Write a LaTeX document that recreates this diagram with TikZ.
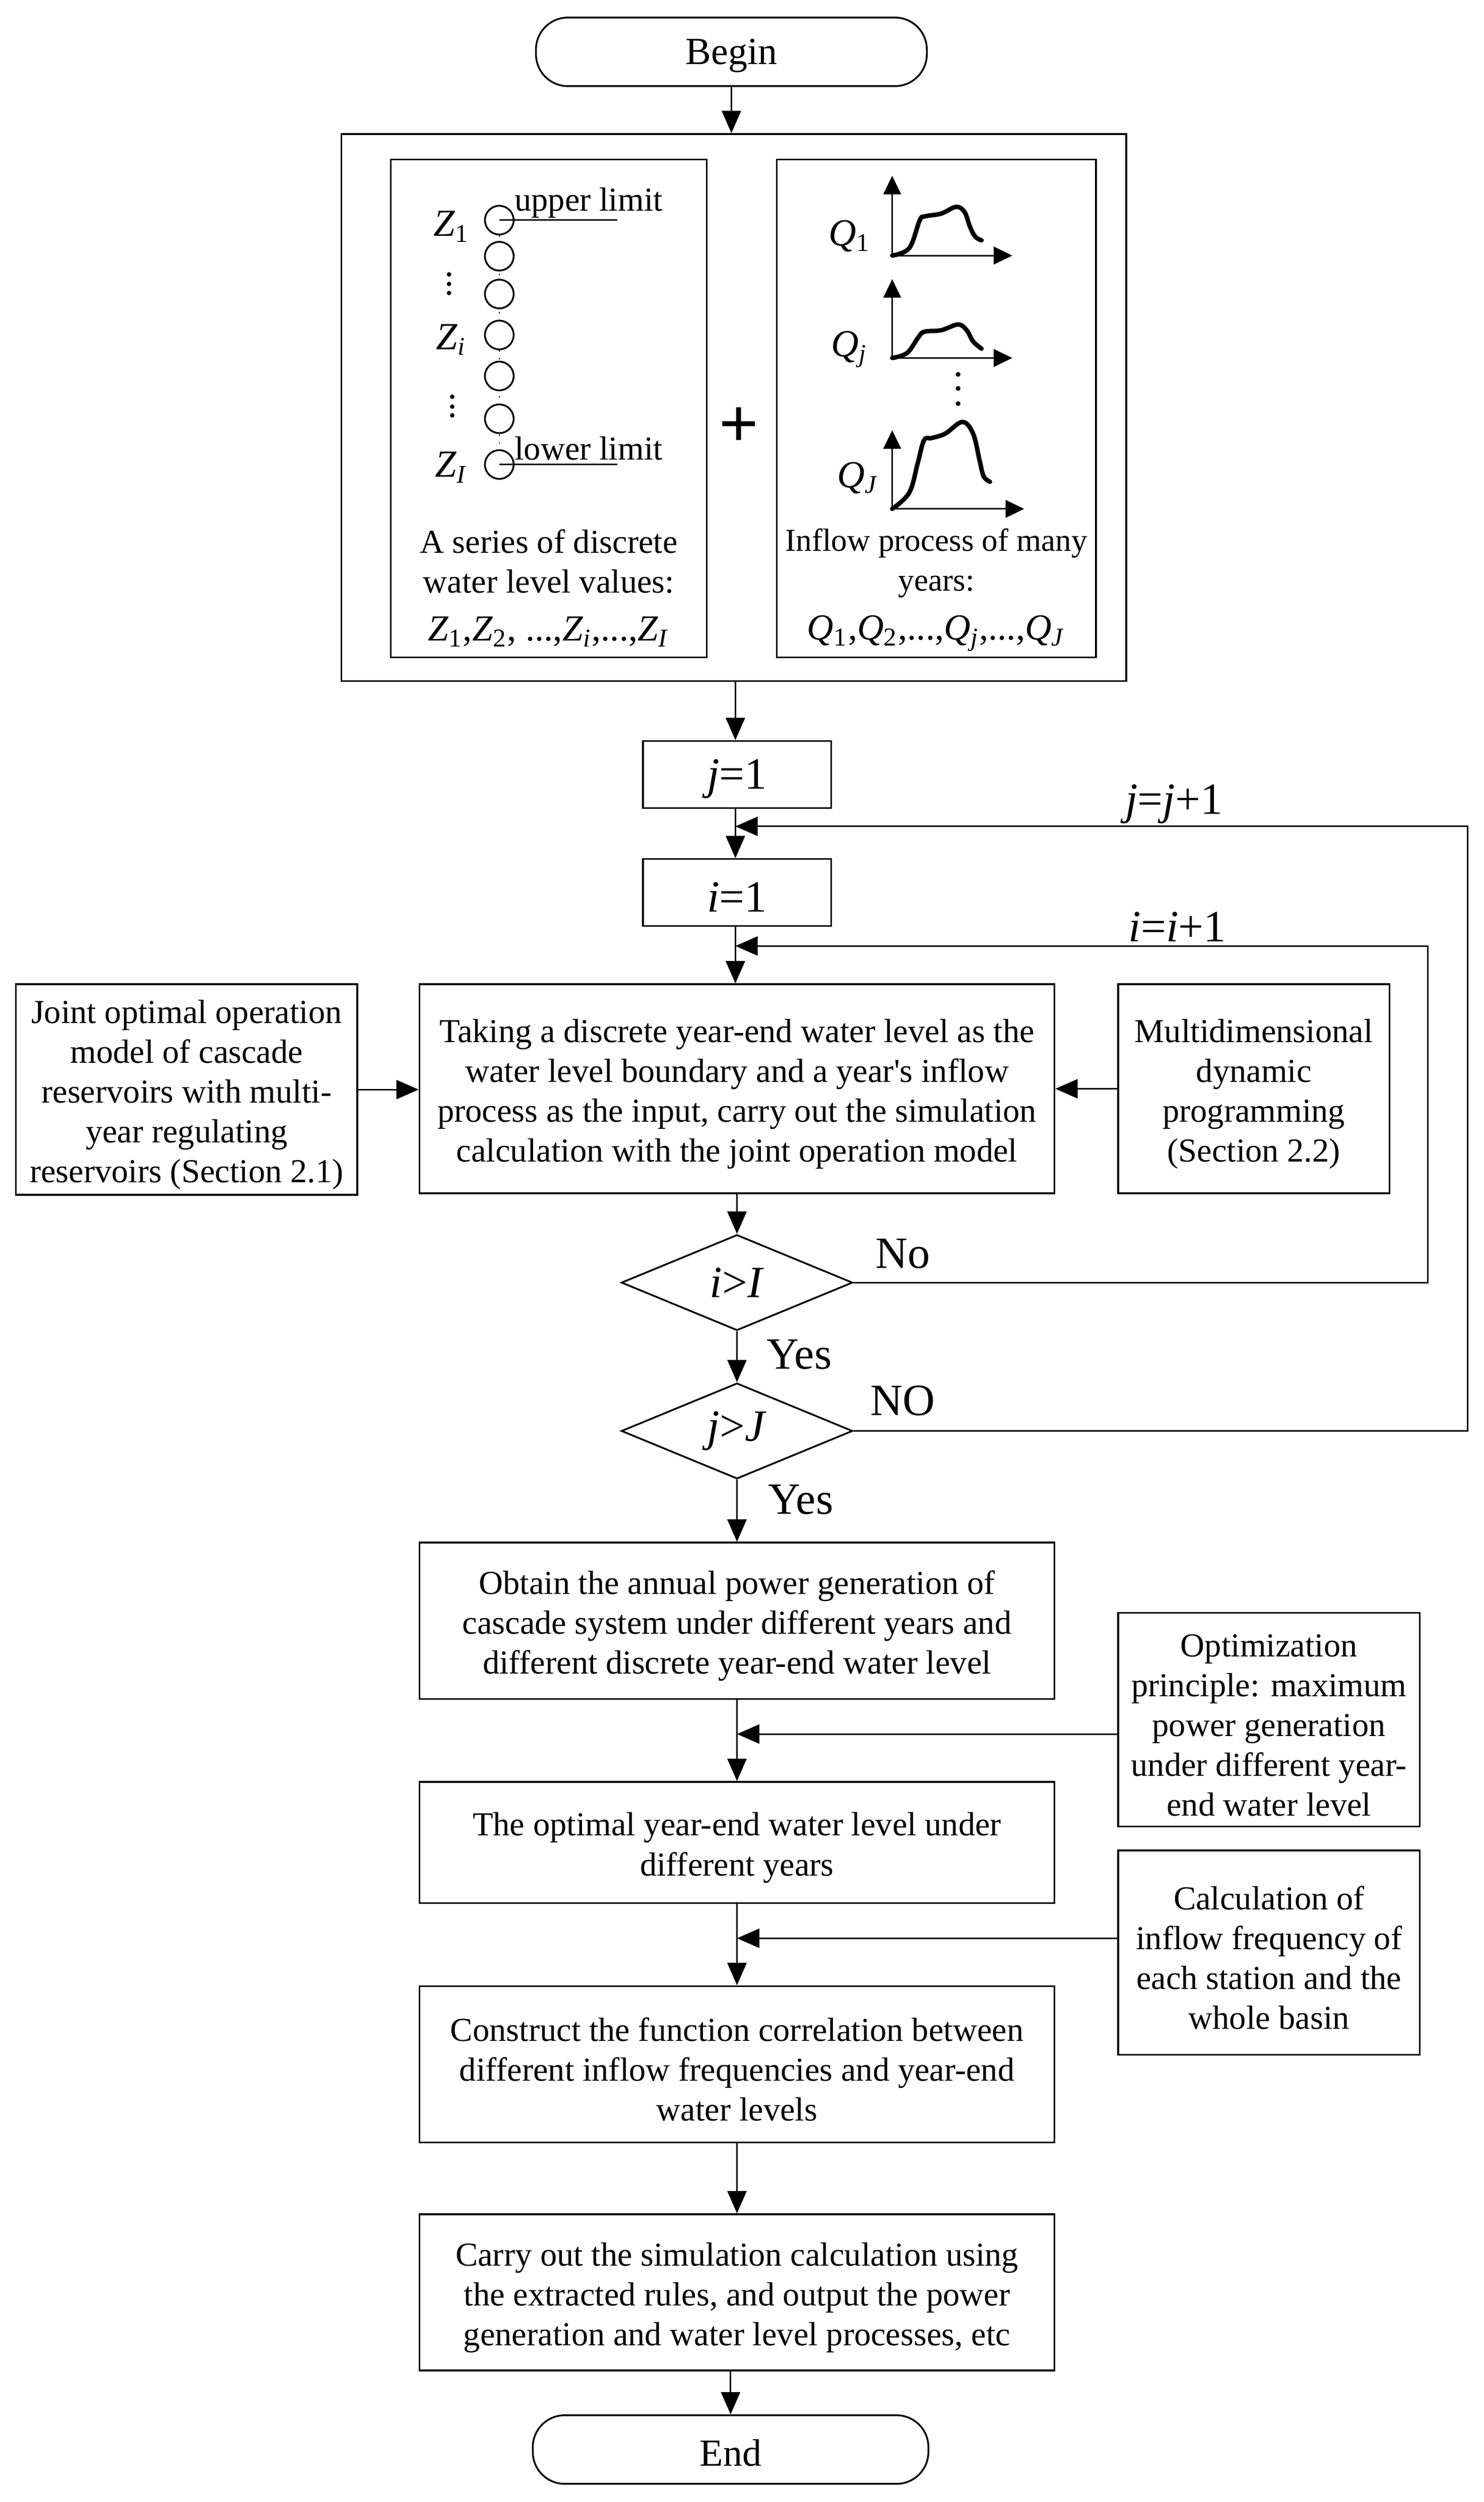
\documentclass[tikz,border=0pt]{standalone}
\usepackage{fontspec}
\setmainfont{Liberation Serif}
\usetikzlibrary{arrows.meta,shapes.geometric,calc}
\newcommand{\bodyfs}{\fontsize{10.5}{12.5}\selectfont}
\newcommand{\bigfs}{\fontsize{14}{16}\selectfont}
\newcommand{\zfs}{\fontsize{12}{14}\selectfont}
\newcommand{\topstrut}{\rule{0pt}{10.5pt}}
\begin{document}
\begin{tikzpicture}[x=0.5pt,y=-0.5pt,
  box/.style={draw, line width=0.55pt, align=center, inner sep=0pt, font=\bodyfs},
  smallbox/.style={draw, line width=0.55pt, inner sep=0pt, font=\bigfs,
    minimum width=59pt, minimum height=21pt, execute at begin node={\rule{0pt}{12pt}}},
  term/.style={draw, line width=0.55pt, rounded corners=10pt, inner sep=0pt,
    font=\fontsize{12}{14}\selectfont, execute at begin node={\rule{0pt}{10.4pt}}},
  dec/.style={draw, line width=0.55pt, diamond, aspect=2.4, inner sep=0pt, minimum width=72.5pt, minimum height=30pt, font=\bigfs},
  arr/.style={-{Triangle[length=7pt,width=6pt]}, line width=0.5pt},
  axarr/.style={-{Triangle[length=5.8pt,width=5.5pt]}, line width=0.5pt},
  lbl/.style={inner sep=0pt, font=\bigfs},
  curve/.style={line width=1.4pt, line cap=round, line join=round},
]
\useasboundingbox (0,0) rectangle (930,1568.4);

% ---------- nodes ----------
\node[term, minimum width=122.5pt, minimum height=21.5pt] (begin) at (458.5,32.5) {Begin};
\node[draw, line width=0.55pt, minimum width=246pt, minimum height=171.5pt] (big) at (460,255.5) {};
\node[draw, line width=0.55pt, minimum width=99pt, minimum height=156pt] (zbox) at (344,256) {};
\node[draw, line width=0.55pt, minimum width=100pt, minimum height=156pt] (qbox) at (587,256) {};
\node[inner sep=0pt, font=\fontsize{22}{22}\selectfont\bfseries] (plus) at (463,268) {+};

\node[smallbox] (j1) at (462,485.5) {\textit{j}=1};
\node[smallbox] (i1) at (462,559.5) {\textit{i}=1};

\node[box, minimum width=199pt, minimum height=65.5pt] (main) at (462,682.5)
  {\topstrut Taking a discrete year-end water level as the\\water level boundary and a year\textquotesingle s inflow\\process as the input, carry out the simulation\\calculation with the joint operation model};
\node[box, minimum width=107pt, minimum height=66pt] (left) at (117,683)
  {\topstrut Joint optimal operation\\model of cascade\\reservoirs with multi-\\year regulating\\reservoirs (Section 2.1)};
\node[box, minimum width=85pt, minimum height=65.5pt] (right) at (786,682.5)
  {\topstrut Multidimensional\\dynamic\\programming\\(Section 2.2)};

\node[dec] (d1) at (462,804) {\textit{i}>\textit{I}};
\node[dec] (d2) at (462,897) {\textit{j}>\textit{J}};

\node[box, minimum width=199pt, minimum height=49pt] (obtain) at (462,1016)
  {\topstrut Obtain the annual power generation of\\cascade system under different years and\\different discrete year-end water level};
\node[box, minimum width=94.5pt, minimum height=67pt] (opt) at (795.5,1078)
  {\topstrut Optimization\\principle: maximum\\power generation\\under different year-\\end water level};
\node[box, minimum width=199pt, minimum height=38pt] (optimal) at (462,1155)
  {\topstrut The optimal year-end water level under\\different years};
\node[box, minimum width=94.5pt, minimum height=64pt] (calc) at (795.5,1224)
  {\topstrut Calculation of\\inflow frequency of\\each station and the\\whole basin};
\node[box, minimum width=199pt, minimum height=49pt] (construct) at (462,1294)
  {\topstrut Construct the function correlation between\\different inflow frequencies and year-end\\water levels};
\node[box, minimum width=199pt, minimum height=49pt] (carry) at (462,1437)
  {\topstrut Carry out the simulation calculation using\\the extracted rules, and output the power\\generation and water level processes, etc};
\node[term, minimum width=124pt, minimum height=21.5pt] (end) at (458,1535.5) {End};

% ---------- labels ----------
\node[lbl] (lj) at (736,504) {\textit{j}=\textit{j}+1};
\node[lbl] (li) at (738,581) {\textit{i}=\textit{i}+1};
\node[lbl] (no1) at (566,786) {No};
\node[lbl] (yes1) at (501,849) {Yes};
\node[lbl] (no2) at (566,878) {NO};
\node[lbl] (yes2) at (502,940) {Yes};

% ---------- connector helper coordinates ----------
\coordinate (jm) at (461,518);
\coordinate (jr) at (920,518);
\coordinate (im) at (461,593);
\coordinate (ir) at (895,593);
\coordinate (om) at (462,1087);
\coordinate (cm) at (462,1215);

% ---------- connectors ----------
\draw[arr] (begin.south) -- (begin.south |- big.north);
\draw[arr] (big.south -| jm) -- (j1.north -| jm);
\draw[arr] (j1.south -| jm) -- (i1.north -| jm);
\draw[arr] (i1.south -| im) -- (main.north -| im);
\draw[arr] (main.south) -- (d1.north);
\draw[arr] (d1.south) -- (d2.north);
\draw[arr] (d2.south) -- (obtain.north);
\draw[arr] (obtain.south) -- (optimal.north);
\draw[arr] (optimal.south) -- (construct.north);
\draw[arr] (construct.south) -- (carry.north);
\draw[arr] (carry.south -| end.north) -- (end.north);
\draw[arr] (left.east) -- (left.east -| main.west);
\draw[arr] (right.west) -- (right.west -| main.east);
\draw[arr] (d1.east) -| (ir) -- (im);
\draw[arr] (d2.east) -| (jr) -- (jm);
\draw[arr] (om -| opt.west) -- (om);
\draw[arr] (cm -| calc.west) -- (cm);

% ---------- left panel: discrete water levels ----------
\draw[dotted, line width=0.4pt] (313,138) -- (313,291);
\foreach \yy in {138,160.6,184.3,210,235.7,262.5,291.2}
  \draw[line width=0.55pt, fill=white] (313,\yy) circle[radius=4.5pt];
\draw[line width=0.5pt] (313,138) -- (387,138);
\draw[line width=0.5pt] (313,291.2) -- (387,291.2);
\node[inner sep=0pt, font=\bodyfs] (up) at (369,127) {upper limit};
\node[inner sep=0pt, font=\bodyfs] (lo) at (369,281) {lower limit};
\node[inner sep=0pt, font=\zfs] (z1) at (283,142) {\textit{Z}\textsubscript{1}};
\node[inner sep=0pt, font=\zfs] (zi) at (283,213) {\textit{Z}\textsubscript{\textit{i}}};
\node[inner sep=0pt, font=\zfs] (zI) at (283,293) {\textit{Z}\textsubscript{\textit{I}}};
\foreach \yy in {172,178,183.7} \fill (281.5,\yy) circle[radius=0.7pt];
\foreach \yy in {248.7,254.9,260.4} \fill (283.5,\yy) circle[radius=0.7pt];
\node[inner sep=0pt, align=center, font=\bodyfs] (ztxt) at (344,352) {A series of discrete\\water level values:};
\node[inner sep=0pt, font=\fontsize{11.5}{13}\selectfont] (zser) at (344,396)
  {\textit{Z}\textsubscript{1},\textit{Z}\textsubscript{2}, ...,\textit{Z}\textsubscript{\textit{i}},...,\textit{Z}\textsubscript{\textit{I}}};

% ---------- right panel: inflow processes ----------
% graph 1
\draw[axarr] (559.3,160.2) -- (559.3,110.2);
\draw[axarr] (559.3,160.2) -- (634.6,160.2);
\draw[curve] plot[smooth, tension=0.6] coordinates {(559.3,160.2) (570,155.5) (576.6,138) (580,135.6) (590,133.9) (599.3,129.7) (604.6,132.8) (608,142) (611.3,148.3) (615.3,150.7)};
\node[inner sep=0pt, font=\zfs] (q1) at (532.6,148) {\textit{Q}\textsubscript{1}};
% graph 2
\draw[axarr] (559.3,224.4) -- (559.3,175);
\draw[axarr] (559.3,224.4) -- (634.6,224.4);
\draw[curve] plot[smooth, tension=0.6] coordinates {(559.3,224.4) (568.6,221.3) (575.3,212) (579.3,208) (590,207) (600.6,203.4) (606,207) (610,214) (615.3,218.6)};
\node[inner sep=0pt, font=\zfs] (qj) at (532.6,219) {\textit{Q}\textsubscript{\textit{j}}};
\foreach \yy in {234.7,243.5,253} \fill (600.6,\yy) circle[radius=0.75pt];
% graph 3
\draw[axarr] (559.3,319) -- (559.3,269.7);
\draw[axarr] (559.3,319) -- (642,319);
\draw[curve] plot[smooth, tension=0.6] coordinates {(559.3,319) (570,308.8) (575.3,290.3) (579.3,275.9) (584,274.6) (592.6,271.8) (603.3,264.5) (610,271.8) (614,288.2) (616.6,298.5) (620.6,302)};
\node[inner sep=0pt, font=\zfs] (qJ) at (538,299.5) {\textit{Q}\textsubscript{\textit{J}}};
\node[inner sep=0pt, align=center, font=\fontsize{10}{12.5}\selectfont] (qtxt) at (587,353) {Inflow process of many\\years:};
\node[inner sep=0pt, font=\fontsize{11.5}{13}\selectfont] (qser) at (587,397)
  {\textit{Q}\textsubscript{1},\textit{Q}\textsubscript{2},...,\textit{Q}\textsubscript{\textit{j}},...,\textit{Q}\textsubscript{\textit{J}}};
\end{tikzpicture}
\end{document}
